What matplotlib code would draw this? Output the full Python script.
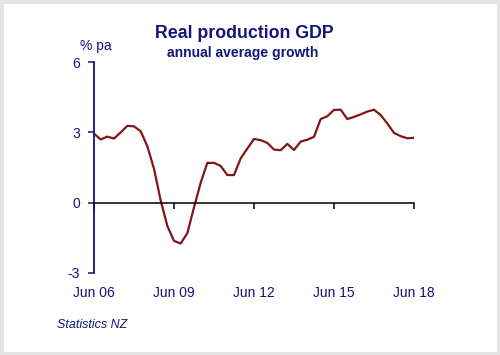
import matplotlib
matplotlib.use("Agg")
import matplotlib.pyplot as plt
from matplotlib.patches import Rectangle

# quarterly, Jun 06 .. Jun 18
gdp_growth = [2.95, 2.70, 2.82, 2.74, 3.00, 3.28, 3.26, 3.05, 2.41, 1.45,
              0.10, -0.99, -1.63, -1.74, -1.30, -0.20, 0.85, 1.70, 1.70, 1.57,
              1.18, 1.18, 1.89, 2.31, 2.72, 2.67, 2.55, 2.27, 2.24, 2.51,
              2.25, 2.61, 2.69, 2.81, 3.57, 3.69, 3.96, 3.97, 3.57, 3.66,
              3.77, 3.89, 3.97, 3.74, 3.38, 2.98, 2.84, 2.75, 2.77]
tick_pos = [0, 12, 24, 36, 48]
tick_labels = ['Jun 06', 'Jun 09', 'Jun 12', 'Jun 15', 'Jun 18']
y_ticks = [-3, 0, 3, 6]

navy = '#14147a'
plt.rcParams['font.family'] = ['Liberation Sans', 'DejaVu Sans']

fig = plt.figure(figsize=(5, 3.55), dpi=100)
ax = fig.add_axes([0.188, 0.231, 0.64, 0.594])

ax.plot(range(len(gdp_growth)), gdp_growth, color='#821518', lw=1.6)

ax.set_xlim(0, 48)
ax.set_ylim(-3, 6)
ax.set_yticks(y_ticks)
ax.set_yticklabels([str(v) for v in y_ticks])
ax.set_xticks(tick_pos)
ax.set_xticklabels(tick_labels)

for s in ['top', 'right']:
    ax.spines[s].set_visible(False)
ax.spines['left'].set_color(navy)
ax.spines['left'].set_linewidth(1.3)
ax.spines['bottom'].set_position(('data', 0))
ax.spines['bottom'].set_color('black')
ax.spines['bottom'].set_linewidth(1.1)

ax.tick_params(axis='y', direction='out', length=4, width=1.1, color=navy,
               labelcolor=navy, labelsize=10, pad=6)
ax.tick_params(axis='x', direction='out', length=4, width=1.1, color='black',
               labelcolor=navy, labelsize=10, pad=56)

fig.text(0.488, 0.905, 'Real production GDP', ha='center', va='center',
         fontsize=12.8, fontweight='bold', color=navy)
fig.text(0.486, 0.851, 'annual average growth', ha='center', va='center',
         fontsize=10, fontweight='bold', color=navy)
fig.text(0.192, 0.870, '% pa', ha='center', va='center', fontsize=10, color=navy)
fig.text(0.114, 0.085, 'Statistics NZ', ha='left', va='center', fontsize=9,
         style='italic', color=navy)

fig.add_artist(Rectangle((0, 0), 1, 1, transform=fig.transFigure, fill=False,
                         ec='#e4e4e4', lw=5))

fig.savefig('out.png', dpi=100)
